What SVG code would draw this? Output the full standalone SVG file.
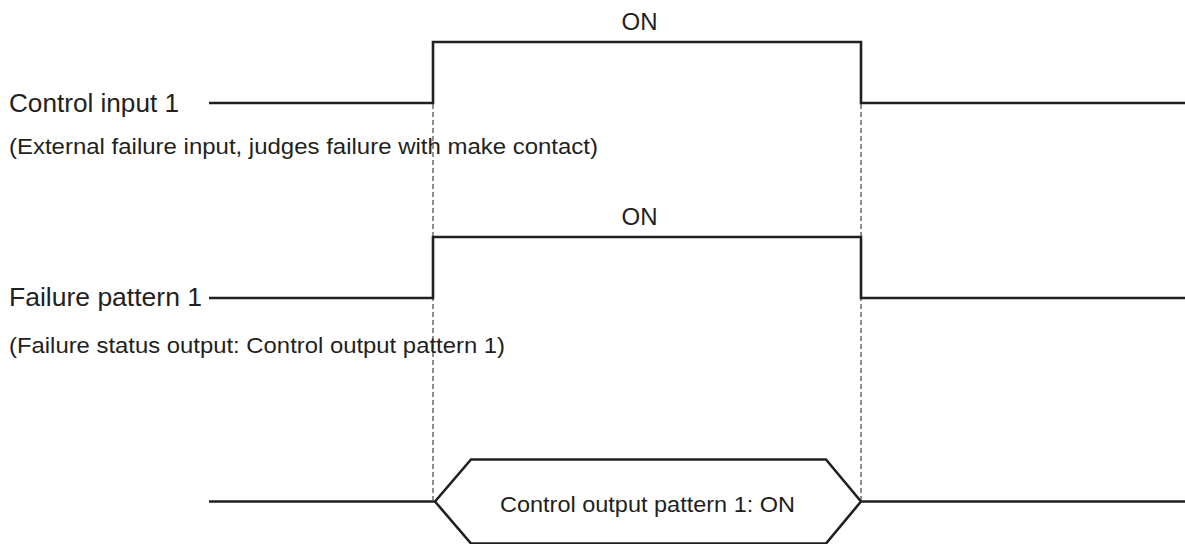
<svg xmlns="http://www.w3.org/2000/svg" width="1185" height="544" viewBox="0 0 1185 544">
<style>
.sig{fill:none;stroke:#231f20;stroke-width:2.6;stroke-linejoin:miter}
.dash{fill:none;stroke:#231f20;stroke-width:1;stroke-dasharray:5 3}
text{font-family:"Liberation Sans",Arial,sans-serif;fill:#231f20}
.lbl{font-size:25px}
.sub{font-size:21.5px}
.on{font-size:24px}
</style>
<rect width="1185" height="544" fill="#fff"/>
<g id="connectors">
<path class="dash" d="M433,104 V500"/>
<path class="dash" d="M861,104 V500"/>
</g>
<g id="control-input-1">
<path class="sig" d="M209,103 H433 V42 H861 V103 H1185"/>
<text class="lbl" x="9" y="112" textLength="170" lengthAdjust="spacingAndGlyphs">Control input 1</text>
<text class="sub" x="9" y="154" textLength="589" lengthAdjust="spacingAndGlyphs">(External failure input, judges failure with make contact)</text>
<text class="on" x="639.5" y="29.5" text-anchor="middle">ON</text>
</g>
<g id="failure-pattern-1">
<path class="sig" d="M209,298 H433 V237 H861 V298 H1185"/>
<text class="lbl" x="9" y="306" textLength="193" lengthAdjust="spacingAndGlyphs">Failure pattern 1</text>
<text class="sub" x="9" y="353" textLength="496" lengthAdjust="spacingAndGlyphs">(Failure status output: Control output pattern 1)</text>
<text class="on" x="639.5" y="224.5" text-anchor="middle">ON</text>
</g>
<g id="control-output">
<path class="sig" d="M209,501.5 H435 L471,459.5 H826 L861,501.5 H1185"/>
<path class="sig" d="M435,501.5 L471,543.5 H826 L861,501.5"/>
<text class="sub" x="500" y="512" textLength="295" lengthAdjust="spacingAndGlyphs">Control output pattern 1: ON</text>
</g>
</svg>
